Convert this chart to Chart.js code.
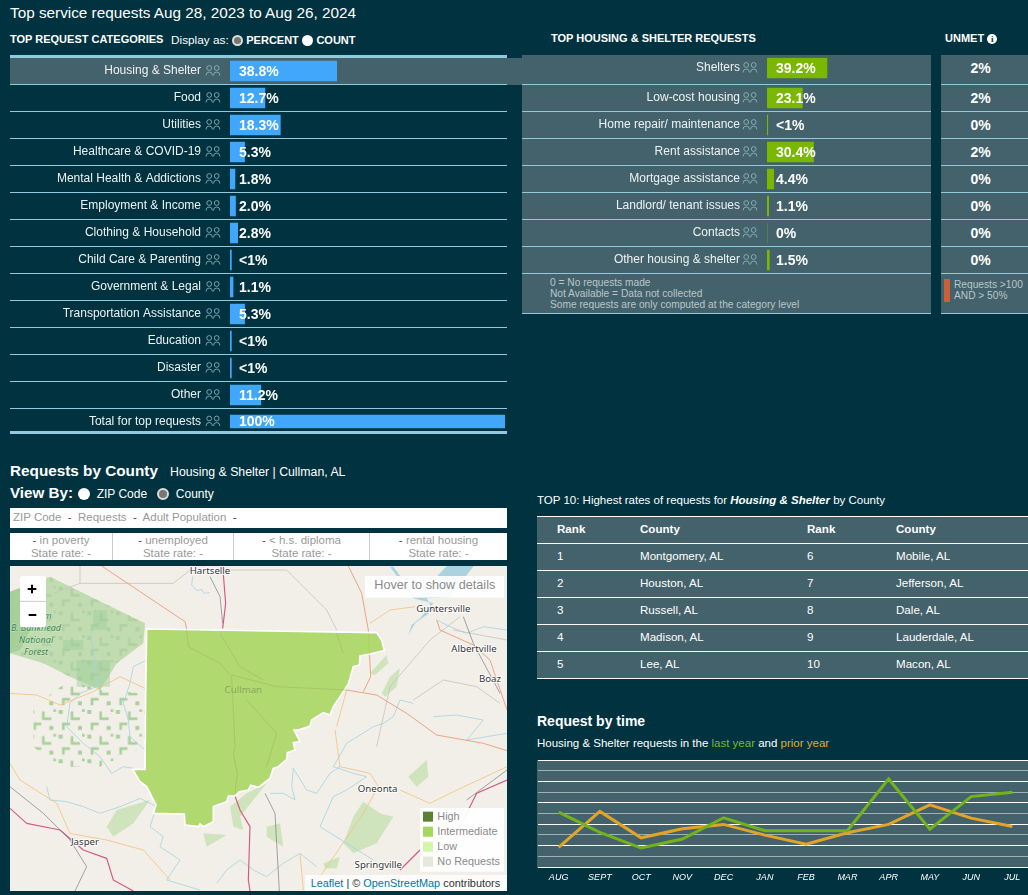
<!DOCTYPE html>
<html lang="en">
<head>
<meta charset="UTF-8">
<title>Top service requests</title>
<script src="https://cdn.jsdelivr.net/npm/chart.js"></script>
<style>
  *{box-sizing:border-box}
  html,body{margin:0;padding:0}
  body{position:relative;width:1028px;height:895px;overflow:hidden;background:#00333f;color:#fff;font-family:Arial,"Liberation Sans",sans-serif;font-size:12px}
  .abs{position:absolute;white-space:nowrap}
  canvas{position:absolute}
  .radio{display:inline-block;width:11px;height:11px;border-radius:50%;background:#fff;vertical-align:-2px}
  .radio.on{background:#777;border:2px solid #ddd}
  .panel{position:absolute;background:#44626b}
  .line{position:absolute;background:#8fcbdc;height:1px}
  .note{color:#b9c6ca;font-size:10.2px;line-height:11px}
  .stat{position:absolute;top:533px;height:27px;text-align:center;color:#9a9a9a;font-size:11.5px;line-height:13px;padding-top:1px}
  .stat b{color:#8a2a8a;font-weight:normal}
  table{position:absolute;left:537px;top:516px;width:491px;height:163px;border-collapse:collapse;background:#44626b;font-size:11.6px;table-layout:fixed}
  td,th{border-top:1px solid #fff;border-bottom:1px solid #fff;text-align:left;padding:0 0 3px;height:27px;font-weight:normal}
  th{font-weight:bold}
</style>
</head>
<body>

<div class="abs" style="left:10px;top:4px;font-size:15.3px">Top service requests Aug 28, 2023 to Aug 26, 2024</div>
<div class="abs" style="left:10px;top:33px;font-size:11px;font-weight:bold">TOP REQUEST CATEGORIES</div>
<div class="abs" style="left:171px;top:33px;font-size:11.8px">Display as: <span class="radio on"></span> <span style="font-size:11px;font-weight:bold">PERCENT</span> <span class="radio"></span> <span style="font-size:11px;font-weight:bold">COUNT</span></div>
<div class="abs" style="left:551px;top:32px;font-size:11px;font-weight:bold">TOP HOUSING &amp; SHELTER REQUESTS</div>
<div class="abs" style="left:945px;top:32px;font-size:11px;font-weight:bold">UNMET <span style="display:inline-block;width:10px;height:10px;border-radius:50%;background:#fff;color:#00333f;font:bold 9px/10px Georgia,serif;text-align:center;vertical-align:0">i</span></div>

<!-- fondos de las tablas -->
<div class="panel" style="left:10px;top:58px;width:512px;height:27px"></div>
<div class="panel" style="left:522px;top:55px;width:409px;height:259px"></div>
<div class="panel" style="left:941px;top:55px;width:87px;height:259px"></div>
<div class="line" style="left:10px;top:55px;width:497px;height:3px"></div>
<div class="line" style="left:10px;top:431px;width:497px;height:3px"></div>

<canvas id="catChart" width="497" height="379" style="left:10px;top:57px"></canvas>
<canvas id="subChart" width="409" height="217" style="left:522px;top:57px"></canvas>

<div id="unmetCol"></div>
<div class="line" style="left:522px;top:313px;width:409px"></div>
<div class="line" style="left:941px;top:313px;width:87px"></div>
<div class="abs note" style="left:550px;top:277px">0 = No requests made<br>Not Available = Data not collected<br>Some requests are only computed at the category level</div>
<div class="abs" style="left:944px;top:279px;width:6px;height:23px;background:#c9603a"></div>
<div class="abs note" style="left:954px;top:279px">Requests &gt;100<br>AND &gt; 50%</div>

<!-- mapa -->
<div class="abs" style="left:10px;top:462px;font-size:15.3px;font-weight:bold">Requests by County</div>
<div class="abs" style="left:170px;top:465px;font-size:12.3px">Housing &amp; Shelter | Cullman, AL</div>
<div class="abs" style="left:10px;top:484px;font-size:15.2px;font-weight:bold">View By:</div>
<div class="abs" style="left:78px;top:487px;font-size:12px"><span class="radio" style="width:12px;height:12px"></span>&nbsp; ZIP Code &nbsp;&nbsp;<span class="radio on" style="width:12px;height:12px"></span>&nbsp; County</div>
<div class="abs" style="left:10px;top:508px;width:497px;height:20px;background:#fff;color:#999;font-size:11.5px;line-height:19px;padding-left:3px">ZIP Code &nbsp;<span style="color:#8a2a8a">-</span>&nbsp; Requests &nbsp;<span style="color:#2a3a8a">-</span>&nbsp; Adult Population &nbsp;<span style="color:#2a3a8a">-</span></div>
<div class="abs" style="left:10px;top:533px;width:497px;height:27px;background:#fff"></div>
<div class="stat" style="left:10px;width:103px;border-right:1px solid #ccc"><b>-</b> in poverty<br>State rate: -</div>
<div class="stat" style="left:113px;width:121px;border-right:1px solid #ccc"><b>-</b> unemployed<br>State rate: -</div>
<div class="stat" style="left:234px;width:136px;border-right:1px solid #ccc"><b>-</b> &lt; h.s. diploma<br>State rate: -</div>
<div class="stat" style="left:370px;width:137px"><b>-</b> rental housing<br>State rate: -</div>

<svg class="abs" style="left:10px;top:566px" width="497" height="325" viewBox="30 18 1491 975" font-family="'Noto Sans','Open Sans',sans-serif">
  <defs>
    <pattern id="woods" width="86" height="74" patternUnits="userSpaceOnUse">
      <path d="M4 6h12v12h-12zM40 10h8v26h-8zM48 28h20v8h-20zM14 44h24v8h-24zM14 52h8v14h-8zM62 54h12v12h-12zM74 4h8v8h-8z" fill="#a9d09b"/>
    </pattern>
  </defs>
  <rect x="30" y="18" width="1491" height="975" fill="#f2efe9"/>
  <path d="M30 95L150 50L435 190L430 250L350 310L300 390L210 350L130 310L30 280Z" fill="#c2dcb2"/>
  <path d="M30 95L100 70L120 150L60 270L30 280Z" fill="#a6cf9a"/>
  <path d="M30 95L150 50L435 190L430 250L350 310L300 390L210 350L130 310L30 280Z" fill="url(#woods)" opacity=".8"/>
  <path d="M100 440L210 360L300 390L435 400V560L300 620H170L100 560Z" fill="url(#woods)"/>
  <path d="M230 300h100v80h-100zM190 240h60v30h-60zM280 150h40v60h-40z" fill="#9ccb97" opacity=".45"/>
  <g fill="#cfe3bd">
    <path d="M320 800L350 750L450 720L400 790L340 830Z"/>
    <path d="M1030 850L1060 770L1090 725L1140 760L1180 770L1130 850L1060 880Z"/>
    <path d="M970 910L1020 890L1010 925L975 925Z"/>
    <path d="M1225 650L1280 600L1285 650L1250 680Z"/>
    <path d="M1145 400L1170 350L1200 325L1190 380L1155 410Z"/>
    <path d="M1110 340L1160 285L1165 310L1125 345Z"/>
    <path d="M690 740L740 700L800 670L760 720L720 770L730 810L700 800Z"/>
    <path d="M610 820L680 825L620 860Z"/>
    <path d="M800 800L840 790L850 860L800 830Z"/>
  </g>
  <path d="M1225 225L1245 190L1300 150L1280 115L1350 112L1421 18H1340L1250 115L1180 20H1170L1240 115L1300 130L1260 175L1235 195Z" fill="#aad3df"/>
  <g fill="none" stroke="#a6d4e2" stroke-width="2.5" stroke-linejoin="round">
    <path d="M578 50L575 75L590 92L605 88L612 100L630 98"/>
    <path d="M270 220L285 300L290 380L240 400L210 430L200 500L250 550L300 590L335 640L370 620L400 625"/>
    <path d="M440 300L400 320L390 370L370 430L385 480L390 530L435 570"/>
    <path d="M1020 620L990 640L950 700L920 690L880 625L875 680L885 720L850 700L810 700"/>
    <path d="M140 680L150 720L200 725L250 740L300 760L360 740L420 715L470 740L450 800L490 830L480 860L540 900L500 960L600 990"/>
    <path d="M1240 430L1200 420L1180 470L1150 490L1120 500L1040 550L1000 620L1060 640L1100 650L1040 690L1000 710L960 800L1040 850L1120 900"/>
    <path d="M1300 470L1370 465L1450 480L1400 540L1460 530L1521 520"/>
    <path d="M650 970L680 930L720 900L760 930L800 950L850 910L900 880L950 920"/>
    <path d="M1310 180L1350 200L1400 220L1450 200L1521 210"/>
  </g>
  <g fill="none" stroke-width="2.5" stroke-linejoin="round">
    <g stroke="#c8c4bc">
      <path d="M240 18V70L160 100M240 70L520 70L570 30H860L980 150L1010 210"/>
      <path d="M1380 170L1290 240L1170 380L1130 560M1360 210L1521 240M1500 430L1430 380L1330 360L1240 420"/>
    </g>
    <g stroke="#f3c27f">
      <path d="M1110 190L1170 150L1245 140"/>
      <path d="M30 400L110 405L180 435L280 395L360 350L435 385"/>
      <path d="M30 610L60 660L170 730L210 820L320 840L430 870L510 960"/>
      <path d="M1005 510L1020 620L1110 640L1135 680L1090 760L960 950"/>
      <path d="M1200 690L1290 730L1350 700L1521 620"/>
      <path d="M900 880L910 990M1040 390L1010 500"/>
    </g>
    <g stroke="#e8946e">
      <path d="M305 18L555 185L560 207"/>
      <path d="M1045 18L1085 100L1105 210L1112 350L1090 395"/>
      <path d="M1040 390L1130 405L1220 460L1310 525L1450 550L1521 572"/>
      <path d="M1310 180L1320 210L1420 255L1470 300L1521 450"/>
    </g>
    <g stroke="#d45a84" stroke-width="3.5">
      <path d="M668 18L677 130L668 205"/>
      <path d="M30 745L80 790L180 810L250 870L320 895L340 960L400 993"/>
      <path d="M705 708L720 750L750 800L745 960L750 993"/>
      <path d="M1521 660L1430 700L1380 800L1260 870L1200 930"/>
    </g>
    <g stroke="#777" stroke-width="2">
      <path d="M630 50L660 110L668 190"/>
      <path d="M795 700L825 760L838 993"/>
      <path d="M30 680L130 760L210 840L260 920L225 993"/>
      <path d="M1390 170L1420 250L1500 400"/>
      <path d="M1521 630L1400 720"/>
    </g>
  </g>
  <!-- Cullman county -->
  <path d="M440 207L1130 218L1145 240L1153 272L1110 282L1080 288L1078 315L1060 320L1045 372L1030 395L1000 440L990 465L970 458L935 480L930 498L895 510L882 510L900 545L880 548L885 570L862 578L860 598L835 620L820 625L810 655L775 682L752 676L745 690L718 695L705 708L685 708L680 725L640 740L640 785L610 800L600 792L595 800L555 795L553 762L460 760L468 735L440 680L420 665L398 628L435 628L437 400Z" fill="#a6d65e" fill-opacity=".88" stroke="#fff" stroke-width="5"/>
  <path d="M560 210L565 260L660 310L695 350L705 560L700 580L712 640L705 700M695 345L830 380L1040 390M740 420L830 520L800 620M660 220L720 320L790 360M1010 220L1030 280" fill="none" stroke="#a3b860" stroke-width="3" opacity=".6"/>
  <g text-anchor="middle" font-size="29" fill="#333" stroke="#fff" stroke-width="5" paint-order="stroke">
    <text x="630" y="42">Hartselle</text>
    <text x="1330" y="156">Guntersville</text>
    <text x="1422" y="276">Albertville</text>
    <text x="1470" y="366">Boaz</text>
    <text x="1133" y="697">Oneonta</text>
    <text x="255" y="854">Jasper</text>
    <text x="1135" y="925">Springville</text>
  </g>
  <text x="730" y="398" text-anchor="middle" font-size="29" fill="#8aa95a">Cullman</text>
  <g text-anchor="middle" font-size="27" font-style="italic" fill="#2f7f45" stroke="#fff" stroke-width="1" paint-order="stroke">
    <text x="110" y="176">William</text>
    <text x="108" y="212">B. Bankhead</text>
    <text x="108" y="248">National</text>
    <text x="108" y="284">Forest</text>
  </g>
  <rect x="60" y="48" width="78" height="154" rx="8" fill="#fff"/>
  <path d="M60 124H138" stroke="#ccc" stroke-width="3"/>
  <path d="M83 87H109M96 74V100M86 165H109" stroke="#000" stroke-width="6"/>
  <rect x="1095" y="48" width="417" height="65" fill="#fff" opacity=".92"/>
  <text x="1123" y="88" font-family="Arial,'Liberation Sans',sans-serif" font-size="38" fill="#8a8a8a">Hover to show details</text>
  <rect x="1260" y="744" width="252" height="191" fill="#fff" opacity=".93"/>
  <g font-family="Arial,'Liberation Sans',sans-serif" font-size="32.5" fill="#8a8a8a">
    <rect x="1269" y="755" width="30" height="30" fill="#5b8036"/><text x="1312" y="780">High</text>
    <rect x="1269" y="800" width="30" height="30" fill="#a6d65e"/><text x="1312" y="825">Intermediate</text>
    <rect x="1269" y="845" width="30" height="30" fill="#d5f6a8"/><text x="1312" y="870">Low</text>
    <rect x="1269" y="890" width="30" height="30" fill="#e4e7dc"/><text x="1312" y="915">No Requests</text>
  </g>
  <rect x="915" y="945" width="606" height="48" fill="#fff" opacity=".8"/>
  <text x="932" y="980" font-family="Arial,'Liberation Sans',sans-serif" font-size="32.7" fill="#333"><tspan fill="#0078a8">Leaflet</tspan> | © <tspan fill="#0078a8">OpenStreetMap</tspan> contributors</text>
</svg>

<!-- top 10 -->
<div class="abs" style="left:537px;top:494px;font-size:11.5px">TOP 10: Highest rates of requests for <b><i>Housing &amp; Shelter</i></b> by County</div>
<table id="topTable"></table>

<!-- tiempo -->
<div class="abs" style="left:537px;top:713px;font-size:14px;font-weight:bold">Request by time</div>
<div class="abs" style="left:537px;top:737px;font-size:11.5px">Housing &amp; Shelter requests in the <span style="color:#7ab82e">last year</span> and <span style="color:#e6a733">prior year</span></div>
<div class="panel" style="left:537px;top:760px;width:491px;height:108px"></div>
<canvas id="timeChart" width="495" height="130" style="left:538px;top:755px"></canvas>

<script>
/* ===== Datos ===== */
const catLabels = ['Housing & Shelter','Food','Utilities','Healthcare & COVID-19','Mental Health & Addictions','Employment & Income','Clothing & Household','Child Care & Parenting','Government & Legal','Transportation Assistance','Education','Disaster','Other','Total for top requests'];
const catValues = [38.8,12.7,18.3,5.3,1.8,2.0,2.8,0.5,1.1,5.3,0.5,0.5,11.2,100];
const catText   = ['38.8%','12.7%','18.3%','5.3%','1.8%','2.0%','2.8%','<1%','1.1%','5.3%','<1%','<1%','11.2%','100%'];

const subLabels = ['Shelters','Low-cost housing','Home repair/ maintenance','Rent assistance','Mortgage assistance','Landlord/ tenant issues','Contacts','Other housing & shelter'];
const subValues = [39.2,23.1,0.5,30.4,4.4,1.1,0,1.5];
const subText   = ['39.2%','23.1%','<1%','30.4%','4.4%','1.1%','0%','1.5%'];
const unmetText = ['2%','2%','0%','2%','0%','0%','0%','0%'];

const topRanksA = ['1','2','3','4','5'];
const topCountiesA = ['Montgomery, AL','Houston, AL','Russell, AL','Madison, AL','Lee, AL'];
const topRanksB = ['6','7','8','9','10'];
const topCountiesB = ['Mobile, AL','Jefferson, AL','Dale, AL','Lauderdale, AL','Macon, AL'];

const months = ['AUG','SEPT','OCT','NOV','DEC','JAN','FEB','MAR','APR','MAY','JUN','JUL'];
const lastYear  = [5.12,3.23,1.77,2.61,4.6,3.39,3.39,3.39,8.23,3.54,6.58,6.99];
const priorYear = [1.83,5.19,2.73,3.57,3.98,2.98,2.14,3.2,3.98,5.81,4.57,3.79];

const ROW_LINE = '#8fcbdc';

/* ===== Filas: líneas, iconos y valores ===== */
function drawPeople(ctx, x, cy){
  ctx.save();
  ctx.strokeStyle = '#93bcc2';
  ctx.lineWidth = 0.8;
  [x, x+7.5].forEach(px=>{
    ctx.beginPath();
    ctx.arc(px+3.2, cy-2.5, 2.4, 0, Math.PI*2);
    ctx.stroke();
    ctx.beginPath();
    ctx.moveTo(px, cy+5);
    ctx.quadraticCurveTo(px, cy+1.5, px+3.2, cy+1.5);
    ctx.quadraticCurveTo(px+6.4, cy+1.5, px+6.4, cy+5);
    ctx.stroke();
  });
  ctx.restore();
}

const rowPlugin = {
  id:'rows',
  // ajustes finos por fila que la escala de categorías no da
  afterDatasetUpdate(chart, args, opts){
    const els = chart.getDatasetMeta(0).data;
    Object.entries(opts.shift||{}).forEach(([i,d])=>{ els[i].y += d; });
    Object.entries(opts.thick||{}).forEach(([i,h])=>{ els[i].height = h; });
  },
  afterUpdate(chart, args, opts){
    const items = chart.scales.y.getLabelItems();
    items.forEach((it,i)=>{ it.options.translation[1] += ((opts.shift||{})[i]||0); });
  },
  beforeDatasetsDraw(chart, args, opts){
    const {ctx, width, scales:{y}} = chart;
    const step = y.getPixelForValue(1) - y.getPixelForValue(0);
    ctx.save();
    ctx.fillStyle = ROW_LINE;
    for(let i=0;i<opts.lines;i++){
      ctx.fillRect(0, Math.floor(y.getPixelForValue(i)+step/2), width, 1);
    }
    ctx.restore();
  },
  afterDatasetsDraw(chart, args, opts){
    const {ctx, chartArea} = chart;
    const els = chart.getDatasetMeta(0).data;
    ctx.save();
    ctx.fillStyle = '#fff';
    ctx.font = 'bold 14px Arial, "Liberation Sans", sans-serif';
    ctx.textBaseline = 'middle';
    els.forEach((el,i)=>{
      ctx.fillText(opts.text[i], chartArea.left+9, el.y+1);
      drawPeople(ctx, chartArea.left-24, el.y-0.5);
    });
    ctx.restore();
  }
};

function rowChart(id, labels, values, color, areaRight, plugOpts, tickPad){
  return new Chart(document.getElementById(id), {
    type:'bar',
    plugins:[rowPlugin],
    data:{labels, datasets:[{data:values, backgroundColor:color, barThickness:20}]},
    options:{
      indexAxis:'y',
      responsive:false,
      animation:false,
      layout:{padding:{top:0.5,bottom:0.5,left:0,right:areaRight}},
      plugins:{legend:{display:false},tooltip:{enabled:false},rows:plugOpts},
      scales:{
        x:{display:false,min:0,max:100},
        y:{
          // el padding de ticks también se suma arriba y abajo; se quita aquí
          afterFit(s){ s.width = plugOpts.axisWidth; s.paddingTop = 0; s.paddingBottom = 0; },
          grid:{display:false},
          border:{display:false},
          ticks:{color:'#edf3f4',font:{family:'Arial, "Liberation Sans", sans-serif',size:12},padding:tickPad,autoSkip:false}
        }
      }
    }
  });
}

rowChart('catChart', catLabels, catValues, '#41a7fb', 2,
  {text:catText, lines:13, axisWidth:220, shift:{13:-0.5}, thick:{13:13}}, 21);
rowChart('subChart', subLabels, subValues, '#7ab800', 11,
  {text:subText, lines:8, axisWidth:245, shift:{0:-3}}, 19);

/* ===== Columna unmet ===== */
const unmetCol = document.getElementById('unmetCol');
unmetText.forEach((t,i)=>{
  const d = document.createElement('div');
  d.className = 'abs';
  d.style.cssText = `left:941px;width:79px;text-align:center;font-weight:bold;font-size:14px;top:${(i===0?60:84+27*(i-1)+6)}px`;
  d.textContent = t;
  unmetCol.appendChild(d);
  const l = document.createElement('div');
  l.className = 'line';
  l.style.cssText = `left:941px;width:87px;top:${84+27*i}px`;
  unmetCol.appendChild(l);
});

/* ===== Tabla top 10 ===== */
const cols = [20,103,270,359,491];
let html = '<colgroup>'+cols.map((c,i)=>`<col style="width:${(i?c-cols[i-1]:c)}px">`).join('')+'</colgroup>';
html += '<tr><th></th><th>Rank</th><th>County</th><th>Rank</th><th>County</th></tr>';
topRanksA.forEach((r,i)=>{
  html += `<tr><td></td><td>${r}</td><td>${topCountiesA[i]}</td><td>${topRanksB[i]}</td><td>${topCountiesB[i]}</td></tr>`;
});
document.getElementById('topTable').innerHTML = html;

/* ===== Línea por mes ===== */
new Chart(document.getElementById('timeChart'), {
  type:'line',
  data:{
    labels:months,
    datasets:[
      {label:'last year', data:lastYear, borderColor:'#72b31c', borderWidth:3, pointRadius:0, tension:0, fill:false},
      {label:'prior year', data:priorYear, borderColor:'#e2a427', borderWidth:3, pointRadius:0, tension:0, fill:false}
    ]
  },
  options:{
    responsive:false,
    animation:false,
    layout:{padding:{top:5,left:0,right:0,bottom:0}},
    plugins:{legend:{display:false},tooltip:{enabled:false}},
    scales:{
      x:{
        offset:true,
        afterFit(s){ s.height = 18; },
        grid:{display:false,drawTicks:false},
        border:{display:false},
        ticks:{color:'#fff',font:{family:'Arial, "Liberation Sans", sans-serif',size:9,style:'italic'},maxRotation:0,autoSkip:false,padding:5}
      },
      y:{
        min:0,max:10,
        afterFit(s){ s.width = 0; },
        border:{display:false},
        grid:{drawTicks:false,lineWidth:1,color:c=> c.tick.value%2===0 ? '#ffffff' : '#9fb0b5'},
        ticks:{display:false,stepSize:1}
      }
    }
  }
});
</script>
</body>
</html>
